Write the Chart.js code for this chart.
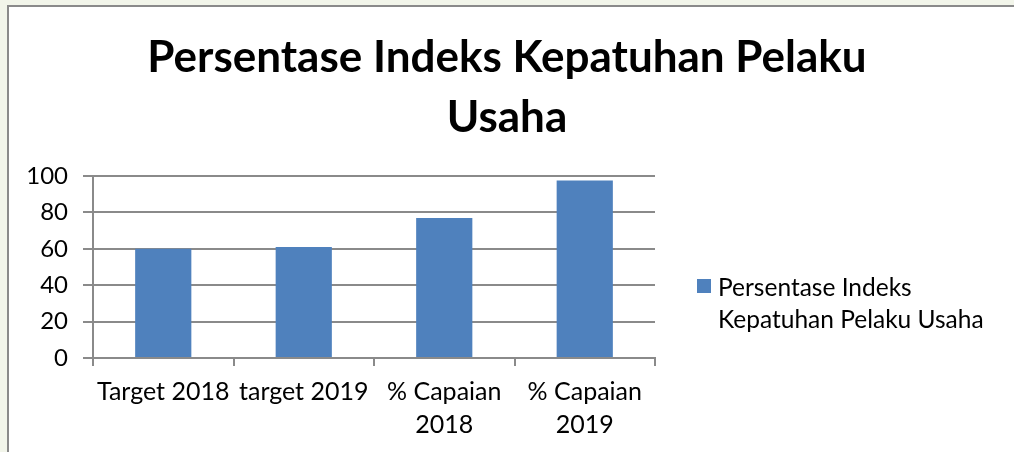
<!DOCTYPE html>
<html>
<head>
<meta charset="utf-8">
<script src="https://cdn.jsdelivr.net/npm/chart.js@4.4.1/dist/chart.umd.min.js"></script>
<style>
  html, body { margin: 0; padding: 0; }
  body { width: 1014px; height: 452px; background: #f2f5ea; position: relative; overflow: hidden; font-family: Lato, sans-serif; }
  #kotak { position: absolute; left: 7px; top: 5px; right: 0; bottom: 0; background: #fff; border-left: 2px solid #8a8a8a; border-top: 2px solid #8a8a8a; }
  #wadah { position: absolute; left: 0; top: 0; width: 1014px; height: 452px; }
  #legenda { position: absolute; left: 697px; top: 271px; font-size: 24.5px; line-height: 32px; color: #000; }
  #legenda .kotak-warna { position: absolute; left: 0; top: 8px; width: 14px; height: 14px; }
  #legenda .teks { margin-left: 21px; white-space: nowrap; }
</style>
</head>
<body>
<div id="kotak"></div>
<div id="wadah"><canvas id="grafik"></canvas></div>
<div id="legenda"></div>
<script>
// data grafik
const kategori = [['Target 2018'], ['target 2019'], ['% Capaian', '2018'], ['% Capaian', '2019']];
const nilai = [60, 61, 77, 97.6];
const namaSeri = 'Persentase Indeks Kepatuhan Pelaku Usaha';
const judul = ['Persentase Indeks Kepatuhan Pelaku', 'Usaha'];
const warnaBatang = '#4f81bd';
const warnaGaris = '#8a8a8a';

const ctx = document.getElementById('grafik').getContext('2d');

const grafik = new Chart(ctx, {
    type: 'bar',
    data: {
        labels: kategori,
        datasets: [{
            label: namaSeri,
            data: nilai,
            backgroundColor: warnaBatang,
            categoryPercentage: 1,
            barPercentage: 0.4
        }]
    },
    options: {
        responsive: true,
        maintainAspectRatio: false,
        animation: false,
        layout: { padding: { left: 0, right: 0, top: 0, bottom: 2 } },
        plugins: {
            legend: { display: false },
            tooltip: { enabled: false },
            title: {
                display: true,
                text: judul,
                color: '#000',
                font: { family: 'Lato', size: 44, weight: 'bold', lineHeight: 1.364 },
                padding: { top: 28, bottom: 28 }
            }
        },
        scales: {
            x: {
                grid: { drawOnChartArea: false, drawTicks: true, tickLength: 8, color: warnaGaris, lineWidth: 2 },
                border: { color: warnaGaris, width: 2 },
                ticks: { color: '#000', font: { family: 'Lato', size: 25, lineHeight: 1.32 }, padding: 9, maxRotation: 0 }
            },
            y: {
                min: 0,
                max: 100,
                afterFit: function (skala) { skala.width = 93; },
                grid: { color: warnaGaris, lineWidth: 2, tickLength: 10 },
                border: { color: warnaGaris, width: 2 },
                ticks: { stepSize: 20, color: '#000', font: { family: 'Lato', size: 24 }, padding: 15 }
            },
            kanan: {
                position: 'right',
                display: true,
                afterFit: function (skala) { skala.width = 359; },
                grid: { display: false },
                border: { display: false },
                ticks: { display: false }
            }
        }
    }
});

// legenda di kanan, dua baris seperti aslinya
const legenda = document.getElementById('legenda');
const warna = document.createElement('div');
warna.className = 'kotak-warna';
warna.style.background = warnaBatang;
legenda.appendChild(warna);
const teks = document.createElement('div');
teks.className = 'teks';
teks.innerHTML = 'Persentase Indeks<br>Kepatuhan Pelaku Usaha';
legenda.appendChild(teks);
</script>
</body>
</html>
